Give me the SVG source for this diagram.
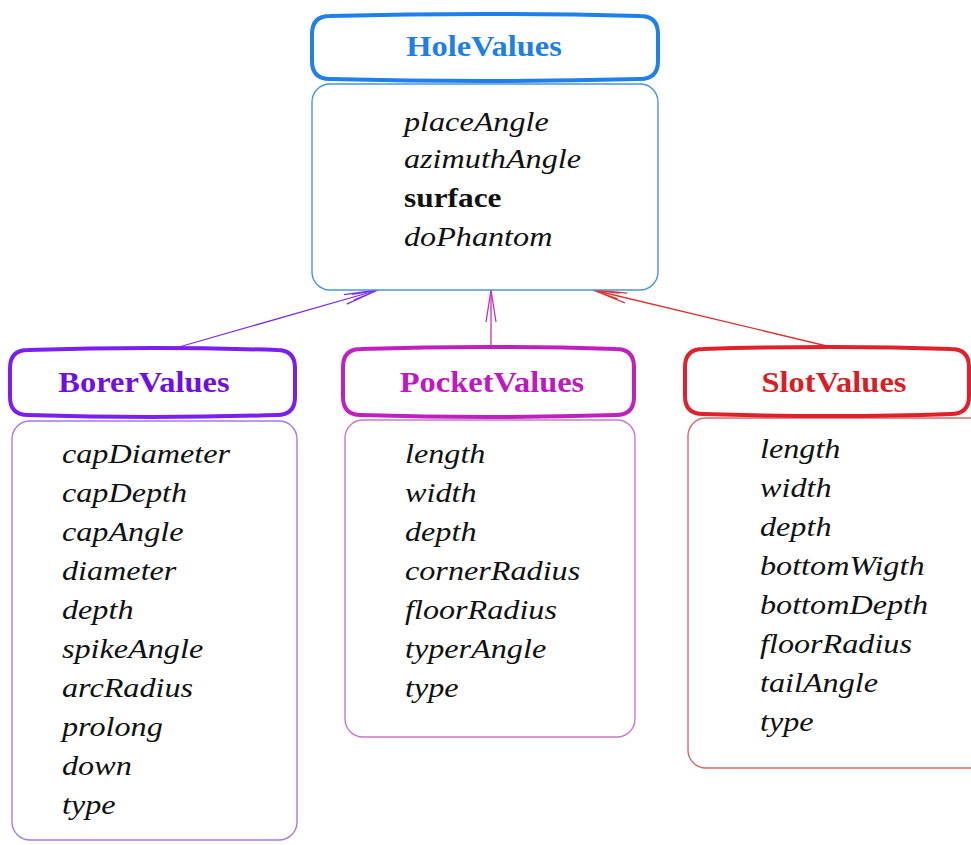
<svg xmlns="http://www.w3.org/2000/svg" width="971" height="845" viewBox="0 0 971 845">
<style>
.hdr{fill:#fff;stroke-width:4}
.body{fill:#fff;stroke-width:1.4}
.ht{font-family:"Liberation Serif",serif;font-weight:bold;font-size:29px;text-anchor:middle}
.at{font-family:"Liberation Serif",serif;font-style:italic;font-size:28px;fill:#111}
.atb{font-family:"Liberation Serif",serif;font-weight:bold;font-size:28px;fill:#111}
.con{fill:none;stroke-width:1.3}
</style>
<defs>
<marker id="mB" markerUnits="userSpaceOnUse" markerWidth="40" markerHeight="16" viewBox="-38 -8 40 16" refX="0" refY="0" orient="auto">
<path d="M-34,-5 L0,0 L-34,5 M-26,-3 L0,0 L-26,3" fill="none" stroke="#7a2ff0" stroke-width="1.3"/>
</marker>
<marker id="mP" markerUnits="userSpaceOnUse" markerWidth="40" markerHeight="16" viewBox="-38 -8 40 16" refX="0" refY="0" orient="auto">
<path d="M-32,-5 L0,0 L-32,5" fill="none" stroke="#c030c8" stroke-width="1.3"/>
</marker>
<marker id="mS" markerUnits="userSpaceOnUse" markerWidth="40" markerHeight="16" viewBox="-38 -8 40 16" refX="0" refY="0" orient="auto">
<path d="M-34,-5 L0,0 L-34,5 M-26,-3 L0,0 L-26,3" fill="none" stroke="#e03030" stroke-width="1.3"/>
</marker>
</defs>

<g id="connectors">
<path class="con" d="M172,349 L378,290" stroke="#7a2ff0" marker-end="url(#mB)"/>
<path class="con" d="M491,348 L491,290" stroke="#c030c8" marker-end="url(#mP)"/>
<path class="con" d="M831,347 L593,290" stroke="#e03030" marker-end="url(#mS)"/>
</g>

<g id="HoleValues">
<rect class="body" x="312" y="84" width="346" height="206" rx="18" stroke="#4a94e0"/>
<path class="hdr" stroke="#1e80e8" d="M330,16 Q485,12 640,16 Q658,16 658,34 L658,61 Q658,79 640,79 Q485,83 330,79 Q312,79 312,61 L312,34 Q312,16 330,16 Z"/>
<text class="ht" fill="#1e7fe6" transform="translate(484,56) scale(1.12,1)">HoleValues</text>
<text class="at" transform="translate(404,131) scale(1.15,1)">placeAngle</text>
<text class="at" transform="translate(404,168) scale(1.15,1)">azimuthAngle</text>
<text class="atb" transform="translate(404,207) scale(1.12,1)">surface</text>
<text class="at" transform="translate(404,246) scale(1.15,1)">doPhantom</text>
</g>

<g id="BorerValues">
<rect class="body" x="12" y="421" width="285" height="419" rx="18" stroke="#a47ae8"/>
<path class="hdr" stroke="#7a1ff0" d="M28,350 Q152,346 277,350 Q295,350 295,368 L295,397 Q295,415 277,415 Q152,419 28,415 Q10,415 10,397 L10,368 Q10,350 28,350 Z"/>
<text class="ht" fill="#7010e0" transform="translate(144,392) scale(1.12,1)">BorerValues</text>
<text class="at" transform="translate(62,463) scale(1.15,1)">capDiameter</text>
<text class="at" transform="translate(62,502) scale(1.15,1)">capDepth</text>
<text class="at" transform="translate(62,541) scale(1.15,1)">capAngle</text>
<text class="at" transform="translate(62,580) scale(1.15,1)">diameter</text>
<text class="at" transform="translate(62,619) scale(1.15,1)">depth</text>
<text class="at" transform="translate(62,658) scale(1.15,1)">spikeAngle</text>
<text class="at" transform="translate(62,697) scale(1.15,1)">arcRadius</text>
<text class="at" transform="translate(62,736) scale(1.15,1)">prolong</text>
<text class="at" transform="translate(62,775) scale(1.15,1)">down</text>
<text class="at" transform="translate(62,814) scale(1.15,1)">type</text>
</g>

<g id="PocketValues">
<rect class="body" x="345" y="420" width="290" height="317" rx="18" stroke="#c878c8"/>
<path class="hdr" stroke="#c020c0" d="M361,349 Q488,345 616,349 Q634,349 634,367 L634,397 Q634,415 616,415 Q488,419 361,415 Q343,415 343,397 L343,367 Q343,349 361,349 Z"/>
<text class="ht" fill="#c018c0" transform="translate(492,392) scale(1.12,1)">PocketValues</text>
<text class="at" transform="translate(405,463) scale(1.15,1)">length</text>
<text class="at" transform="translate(405,502) scale(1.15,1)">width</text>
<text class="at" transform="translate(405,541) scale(1.15,1)">depth</text>
<text class="at" transform="translate(405,580) scale(1.15,1)">cornerRadius</text>
<text class="at" transform="translate(405,619) scale(1.15,1)">floorRadius</text>
<text class="at" transform="translate(405,658) scale(1.15,1)">typerAngle</text>
<text class="at" transform="translate(405,697) scale(1.15,1)">type</text>
</g>

<g id="SlotValues">
<rect class="body" x="688" y="418" width="300" height="350" rx="18" stroke="#d86a6a"/>
<path class="hdr" stroke="#e0202a" d="M703,349 Q836,345 951,349 Q969,349 969,367 L969,396 Q969,414 951,414 Q836,418 703,414 Q685,414 685,396 L685,367 Q685,349 703,349 Z"/>
<text class="ht" fill="#dc1c24" transform="translate(834,392) scale(1.12,1)">SlotValues</text>
<text class="at" transform="translate(760,458) scale(1.15,1)">length</text>
<text class="at" transform="translate(760,497) scale(1.15,1)">width</text>
<text class="at" transform="translate(760,536) scale(1.15,1)">depth</text>
<text class="at" transform="translate(760,575) scale(1.15,1)">bottomWigth</text>
<text class="at" transform="translate(760,614) scale(1.15,1)">bottomDepth</text>
<text class="at" transform="translate(760,653) scale(1.15,1)">floorRadius</text>
<text class="at" transform="translate(760,692) scale(1.15,1)">tailAngle</text>
<text class="at" transform="translate(760,731) scale(1.15,1)">type</text>
</g>
</svg>
